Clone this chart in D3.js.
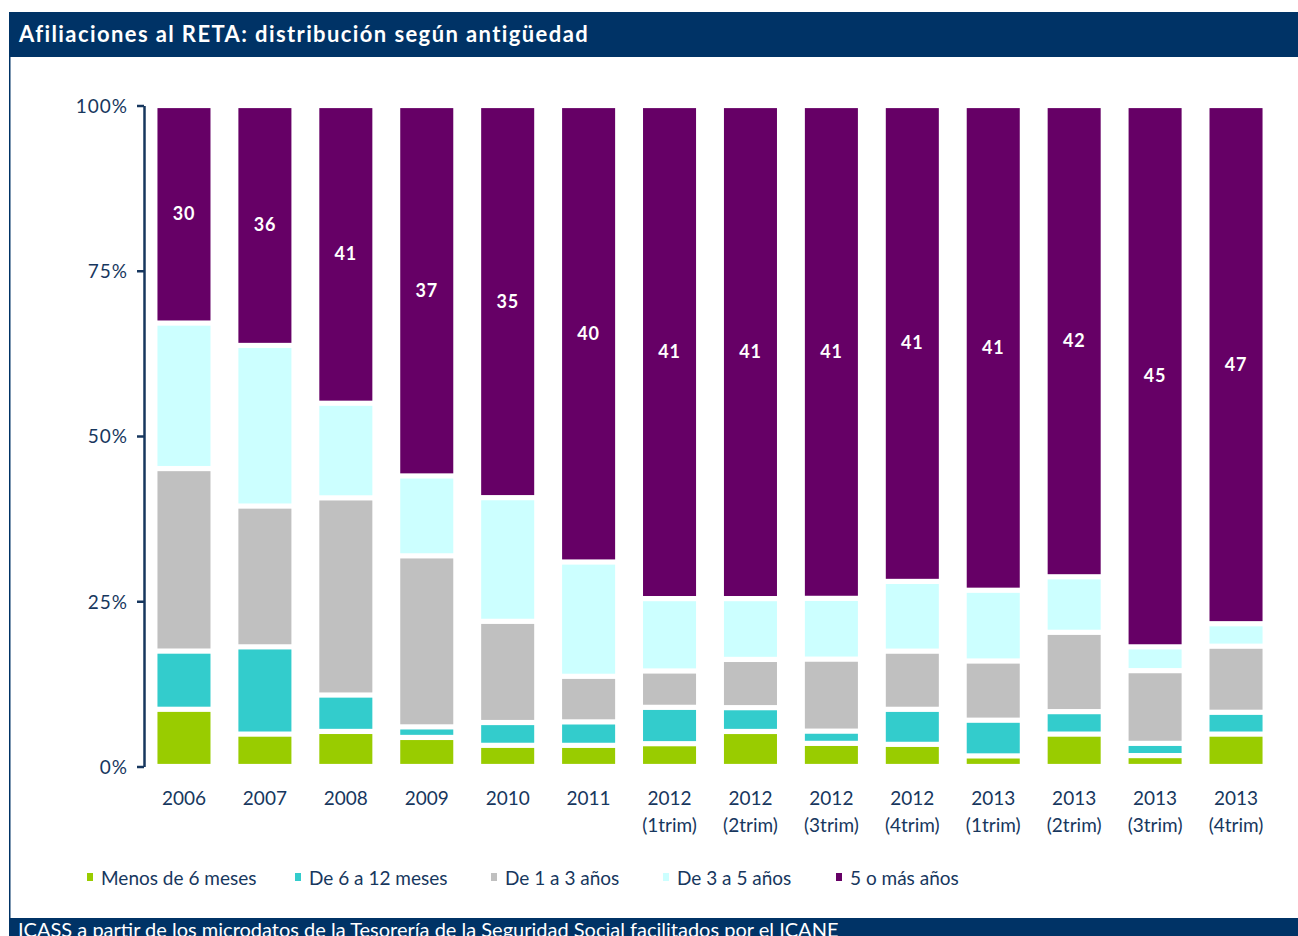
<!DOCTYPE html>
<html>
<head>
<meta charset="utf-8">
<script src="https://cdn.jsdelivr.net/npm/d3@7"></script>
<style>
  body { margin: 0; background: #fff; }
  svg { display: block; }
</style>
</head>
<body>
<div id="chart"></div>
<script>
// categorias del eje x (dos lineas)
const anios = ["2006","2007","2008","2009","2010","2011","2012","2012","2012","2012","2013","2013","2013","2013"];
const trims = ["","","","","","","(1trim)","(2trim)","(3trim)","(4trim)","(1trim)","(2trim)","(3trim)","(4trim)"];

const series = ["Menos de 6 meses","De 6 a 12 meses","De 1 a 3 años","De 3 a 5 años","5 o más años"];

// % de afiliados en cada tramo de antigüedad
const menos6 = [8.65, 4.9, 5.3, 4.4, 3.2, 3.2, 3.45, 5.3, 3.5, 3.35, 1.6, 4.9, 1.65, 4.9];
const de6a12 = [8.8, 13.2, 5.5, 1.6, 3.45, 3.55, 5.5, 3.6, 1.85, 5.3, 5.4, 3.4, 1.85, 3.3];
const de1a3  = [27.6, 21.3, 29.8, 25.9, 15.3, 6.9, 5.5, 7.3, 10.9, 8.8, 8.95, 12.0, 11.0, 10.0];
const de3a5  = [22.0, 24.3, 14.3, 12.1, 18.7, 17.3, 10.95, 9.2, 9.2, 10.55, 10.7, 8.4, 3.6, 3.4];
const mas5   = [32.9, 36.3, 45.0, 56.1, 59.3, 69.1, 74.6, 74.6, 74.6, 72.0, 73.3, 71.3, 81.9, 78.4];

// etiquetas que aparecen sobre la barra morada
const etiquetas = [30, 36, 41, 37, 35, 40, 41, 41, 41, 41, 41, 42, 45, 47];

const yTicks = [0, 0.25, 0.5, 0.75, 1];

const colores = ["#99cc00", "#33cccc", "#c0c0c0", "#ccffff", "#660066"];
const navy = "#003366";
const txtColor = "#17375e";
const font = "Lato, 'Open Sans', sans-serif";

let width = 1298, height = 936;

let svg = d3.select("#chart").append("svg")
  .attr("width", width)
  .attr("height", height);

svg.append("rect").attr("width", width).attr("height", height).attr("fill", "#fff");

// marco: barra de titulo, borde izquierdo y pie
svg.append("rect")
  .attr("x", 9).attr("y", 12)
  .attr("width", width - 9).attr("height", 45)
  .attr("fill", navy);

svg.append("text")
  .attr("x", 19).attr("y", 42)
  .attr("fill", "#fff")
  .style("font-family", font)
  .style("font-weight", "bold")
  .style("font-size", "22px")
  .style("letter-spacing", "1.4px")
  .text("Afiliaciones al RETA: distribución según antigüedad");

svg.append("line")
  .attr("x1", 9.75).attr("x2", 9.75)
  .attr("y1", 57).attr("y2", 918)
  .attr("stroke", navy)
  .attr("stroke-width", 1.5);

svg.append("rect")
  .attr("x", 9).attr("y", 918)
  .attr("width", width - 9).attr("height", 18)
  .attr("fill", navy);

svg.append("text")
  .attr("x", 18).attr("y", 937)
  .attr("fill", "#fff")
  .style("font-family", font)
  .style("font-size", "20px")
  .text("ICASS a partir de los microdatos de la Tesorería de la Seguridad Social facilitados por el ICANE");

// datos para el apilado
let tabla = anios.map(function (a, i) {
  return {
    idx: i,
    "Menos de 6 meses": menos6[i],
    "De 6 a 12 meses": de6a12[i],
    "De 1 a 3 años": de1a3[i],
    "De 3 a 5 años": de3a5[i],
    "5 o más años": mas5[i]
  };
});

let stack = d3.stack().keys(series).offset(d3.stackOffsetExpand);
let capas = stack(tabla);

let x = d3.scaleBand()
  .domain(d3.range(anios.length))
  .range([144, 1276])
  .paddingInner(0.32)
  .paddingOuter(0.154);

let y = d3.scaleLinear()
  .domain([0, 1])
  .range([766.5, 105.5]);

let color = d3.scaleOrdinal().domain(series).range(colores);

let gap = 2.6;

let grupos = svg.append("g").selectAll("g")
  .data(capas)
  .enter().append("g")
  .attr("fill", function (d) { return color(d.key); });

grupos.selectAll("rect")
  .data(function (d) { return d; })
  .enter().append("rect")
  .attr("x", function (d) { return x(d.data.idx) + 1; })
  .attr("width", x.bandwidth() - 2)
  .attr("y", function (d) { return y(d[1]) + gap; })
  .attr("height", function (d) { return Math.max(0.5, y(d[0]) - y(d[1]) - 2 * gap); });

// etiquetas en la barra de 5 o mas años
let ultima = capas[capas.length - 1];
svg.append("g").selectAll("text")
  .data(ultima)
  .enter().append("text")
  .attr("x", function (d) { return x(d.data.idx) + x.bandwidth() / 2; })
  .attr("y", function (d) { return (y(d[0]) + y(d[1])) / 2 + 6; })
  .attr("text-anchor", "middle")
  .attr("fill", "#fff")
  .style("font-family", font)
  .style("font-weight", "bold")
  .style("font-size", "18px")
  .style("letter-spacing", "0.8px")
  .text(function (d, i) { return etiquetas[i]; });

// eje y
let ejeY = svg.append("g")
  .attr("transform", "translate(144,0)")
  .call(d3.axisLeft(y)
    .tickValues(yTicks)
    .tickFormat(d3.format(".0%"))
    .tickSize(7)
    .tickSizeOuter(0)
    .tickPadding(9));

ejeY.select(".domain").attr("stroke", txtColor).attr("stroke-width", 2.5);
ejeY.selectAll(".tick line").attr("stroke", txtColor).attr("stroke-width", 2.5);
ejeY.selectAll(".tick text")
  .attr("fill", txtColor)
  .attr("dy", "0.36em")
  .style("font-family", font)
  .style("font-size", "19px")
  .style("letter-spacing", "1px");

// etiquetas eje x
let ejeX = svg.append("g");
ejeX.selectAll("text.anio")
  .data(anios)
  .enter().append("text")
  .attr("class", "anio")
  .attr("x", function (d, i) { return x(i) + x.bandwidth() / 2; })
  .attr("y", 805)
  .attr("text-anchor", "middle")
  .attr("fill", txtColor)
  .style("font-family", font)
  .style("font-size", "19px")
  .text(function (d) { return d; });

ejeX.selectAll("text.trim")
  .data(trims)
  .enter().append("text")
  .attr("class", "trim")
  .attr("x", function (d, i) { return x(i) + x.bandwidth() / 2; })
  .attr("y", 832)
  .attr("text-anchor", "middle")
  .attr("fill", txtColor)
  .style("font-family", font)
  .style("font-size", "19px")
  .text(function (d) { return d; });

// leyenda
let legX = [87, 295, 491, 663, 836];
let leyenda = svg.append("g").selectAll("g")
  .data(series)
  .enter().append("g")
  .attr("transform", function (d, i) { return "translate(" + legX[i] + ",0)"; });

leyenda.append("rect")
  .attr("x", 0).attr("y", 873)
  .attr("width", 6).attr("height", 8)
  .attr("fill", function (d) { return color(d); });

leyenda.append("text")
  .attr("x", 14).attr("y", 885)
  .attr("fill", txtColor)
  .style("font-family", font)
  .style("font-size", "19px")
  .text(function (d) { return d; });
</script>
</body>
</html>
